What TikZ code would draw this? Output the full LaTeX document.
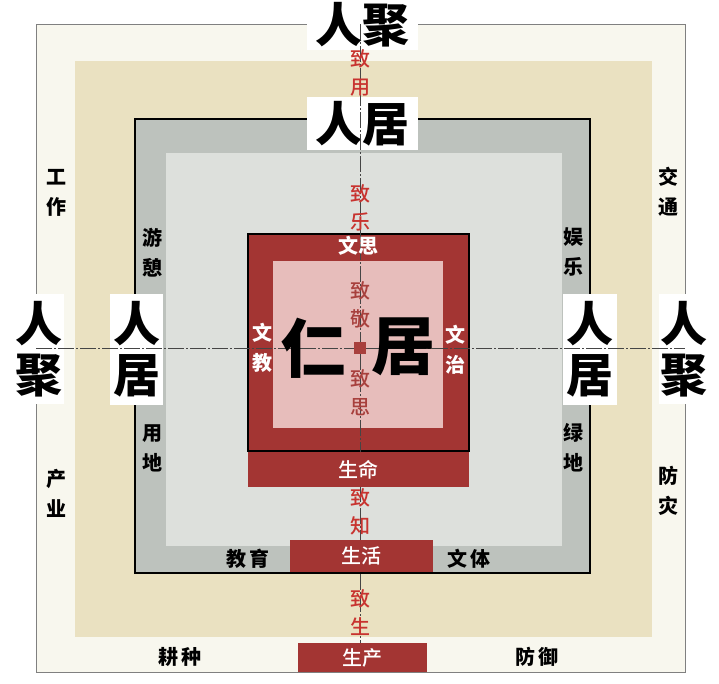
\documentclass[tikz,border=0pt]{standalone}
\usepackage{fontspec}
\newfontfamily\cjk{Noto Sans CJK SC}
\newfontfamily\cjkmid{Noto Sans CJK SC Medium}
\definecolor{cream}{HTML}{F8F7EE}
\definecolor{tan}{HTML}{EAE1C1}
\definecolor{bandgray}{HTML}{BDC2BD}
\definecolor{innergray}{HTML}{DDE0DC}
\definecolor{renred}{HTML}{A33533}
\definecolor{renpink}{HTML}{E7BDBB}
\definecolor{zhired}{HTML}{C8332F}
\definecolor{zhidark}{HTML}{A8403D}
\definecolor{axisgray}{HTML}{454545}

\begin{document}
\begin{tikzpicture}[
      x=1pt,y=-1pt,
      white box/.style={fill=white,inner sep=0pt,align=center,
        font=\cjk\bfseries\fontsize{47}{51}\selectfont},
      tag/.style={align=center,inner sep=0pt,
        font=\cjk\bfseries\fontsize{20}{30}\selectfont},
      zhi tag/.style={align=center,inner sep=0pt,text=zhired,
        font=\cjkmid\fontsize{20}{28}\selectfont},
      bar/.style={fill=renred,text=white,inner sep=0pt,
        font=\cjkmid\fontsize{20}{24}\selectfont},
      axis/.style={draw=axisgray,line width=0.7pt,
        dash pattern=on 16pt off 2pt on 2pt off 2pt}
    ]
    \useasboundingbox (0,0) rectangle (719,683);

    % nested squares
    \draw[fill=cream,draw=gray,line width=1pt] (36,24) rectangle (685,672);
    \fill[tan] (75,61) rectangle (652,637);
    \draw[fill=bandgray,line width=1.2pt] (135,119) rectangle (590,573);
    \fill[innergray] (166,153) rectangle (562,546);
    \draw[fill=renred,line width=1.5pt] (248,234) rectangle (469,451);
    \fill[renpink] (273,261) rectangle (443,428);

    % 人聚 / 人居
    \node[white box,minimum width=111pt,minimum height=50pt] (JuTop) at (362,25) {人聚};
    \node[white box,minimum width=111pt,minimum height=53pt] (ResTop) at (362,123.5) {人居};
    \node[white box,minimum width=49pt,minimum height=110pt] (JuLeft) at (39.5,349) {人\\聚};
    \node[white box,minimum width=53pt,minimum height=111pt] (ResLeft) at (136.5,349.5) {人\\居};
    \node[white box,minimum width=54pt,minimum height=111pt] (ResRight) at (590,349.5) {人\\居};
    \node[white box,minimum width=50pt,minimum height=110pt] (JuRight) at (684,349) {人\\聚};

    % axes
    \coordinate (AxTop) at (360,24);
    \coordinate (AxBot) at (360,672);
    \coordinate (AxLeft) at (36,348);
    \coordinate (AxRight) at (685,348);
    \draw[axis] (AxTop) -- (AxBot);
    \draw[axis] (AxLeft) -- (AxRight);

    % bars
    \node[bar,minimum width=221pt,minimum height=35pt] (Life) at (358.5,469.5) {生命};
    \node[bar,minimum width=143pt,minimum height=32pt] (Living) at (361.5,556) {生活};
    \node[bar,minimum width=129pt,minimum height=29pt] (Product) at (362.5,657.5) {生产};

    % centre
    \node[fill=zhidark,minimum size=12pt,inner sep=0pt] (Hub) at (360,348) {};
    \node[font=\cjk\bfseries\fontsize{64}{64}\selectfont,inner sep=0pt] (Ren) at (313,348) {仁};
    \node[font=\cjk\bfseries\fontsize{64}{64}\selectfont,inner sep=0pt] (Ju) at (403,347) {居};

    % 致 labels
    \node[zhi tag] (ZhiYong) at (360,73) {致\\用};
    \node[zhi tag] (ZhiLe) at (360,208) {致\\乐};
    \node[zhi tag,text=zhidark] (ZhiJing) at (360,305) {致\\敬};
    \node[zhi tag,text=zhidark] (ZhiSi) at (360,393) {致\\思};
    \node[zhi tag] (ZhiZhi) at (360,512) {致\\知};
    \node[zhi tag] (ZhiSheng) at (360,613) {致\\生};

    % red band
    \node[tag,text=white] (WenSi) at (358,246) {文思};
    \node[tag,text=white] (WenJiao) at (262,348) {文\\教};
    \node[tag,text=white] (WenZhi) at (455,350) {文\\治};

    % gray band
    \node[tag] (YouQi) at (152,253) {游\\憩};
    \node[tag] (YongDi) at (152,448) {用\\地};
    \node[tag] (YuLe) at (573,252) {娱\\乐};
    \node[tag] (LvDi) at (573,448) {绿\\地};
    \node[tag] (JiaoYu) at (248,559) {教\hspace{3pt}育};
    \node[tag] (WenTi) at (469,559) {文\hspace{3pt}体};

    % outer band
    \node[tag] (GongZuo) at (56,193) {工\\作};
    \node[tag] (ChanYe) at (56,493) {产\\业};
    \node[tag] (JiaoTong) at (668,192) {交\\通};
    \node[tag] (FangZai) at (668,491) {防\\灾};
    \node[tag] (GengZhong) at (180,657) {耕\hspace{3pt}种};
    \node[tag] (FangYu) at (537,657) {防\hspace{3pt}御};
  \end{tikzpicture}
\end{document}
